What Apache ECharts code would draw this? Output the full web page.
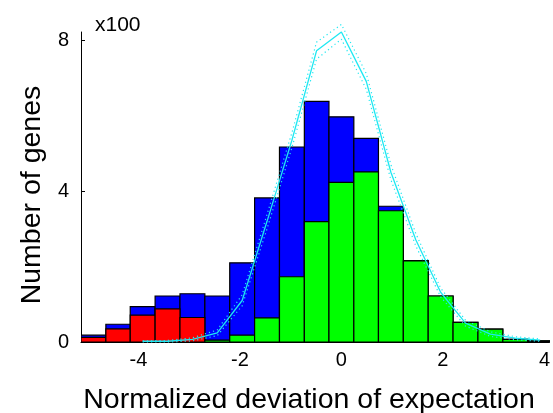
<!DOCTYPE html>
<html>
<head>
<meta charset="utf-8">
<script src="https://cdn.jsdelivr.net/npm/echarts@6/dist/echarts.min.js"></script>
<style>
html,body{margin:0;padding:0;background:#fff;}
#chart{width:553px;height:413px;}
</style>
</head>
<body>
<div id="chart"></div>
<script>
// Histogram bin edges (x, normalized deviation)
const binEdges = [-5.13, -4.64, -4.16, -3.67, -3.18, -2.69, -2.20, -1.71, -1.22, -0.73,
                  -0.245, 0.245, 0.73, 1.22, 1.71, 2.20, 2.69, 3.18, 3.67, 4.16];
// Counts in hundreds of genes
const totalCounts = [0.18, 0.47, 0.94, 1.22, 1.28, 1.22, 2.10, 3.82, 5.17, 6.38,
                     5.97, 5.40, 3.60, 2.16, 1.22, 0.52, 0.34, 0.07, 0.03];
const redCounts   = [0.12, 0.35, 0.71, 0.88, 0.65, 0, 0, 0, 0, 0,
                     0, 0, 0, 0, 0, 0, 0, 0, 0];
const greenCounts = [0, 0, 0, 0, 0, 0.05, 0.18, 0.64, 1.73, 3.19,
                     4.23, 4.51, 3.48, 2.15, 1.22, 0.52, 0.34, 0.07, 0.03];
// Expected distribution (cyan) with band
const fitX     = [-3.915, -3.425, -2.935, -2.445, -1.955, -1.465, -0.975, -0.49, 0.0, 0.49,
                  0.975, 1.465, 1.955, 2.445, 2.935, 3.425, 3.915];
const fitY     = [0.02, 0.02, 0.07, 0.24, 1.10, 3.20, 5.35, 7.72, 8.22, 6.91,
                  4.50, 2.71, 1.32, 0.50, 0.21, 0.10, 0.05];
const fitUpper = [0.03, 0.04, 0.11, 0.32, 1.25, 3.38, 5.55, 7.95, 8.42, 7.12,
                  4.70, 2.88, 1.43, 0.58, 0.27, 0.14, 0.08];
const fitLower = [0.00, 0.00, 0.03, 0.17, 0.96, 3.00, 5.15, 7.50, 8.03, 6.70,
                  4.30, 2.55, 1.20, 0.42, 0.15, 0.06, 0.02];
const xTicks = [-4, -2, 0, 2, 4];
const yTicks = [0, 4, 8];

const chart = echarts.init(document.getElementById('chart'), null, {renderer: 'canvas'});
const FONT = 'Liberation Sans, Arial, sans-serif';

function histSeries(name, counts, color, z) {
  const data = [];
  counts.forEach((v, i) => { if (v > 0) data.push([binEdges[i], binEdges[i + 1], v]); });
  return {
    name: name,
    type: 'custom',
    z: z,
    clip: true,
    encode: {x: [0, 1], y: 2},
    data: data,
    renderItem: function (params, api) {
      const p0 = api.coord([api.value(0), api.value(2)]);
      const p1 = api.coord([api.value(1), 0]);
      return {
        type: 'rect',
        shape: {x: p0[0], y: p0[1], width: p1[0] - p0[0], height: p1[1] - p0[1]},
        style: {fill: color, stroke: '#000', lineWidth: 1.2}
      };
    }
  };
}

function lineSeries(ys, type, width) {
  return {
    type: 'line',
    z: 10,
    clip: false,
    symbol: 'none',
    silent: true,
    data: fitX.map((x, i) => [x, ys[i]]),
    lineStyle: {color: '#1ee8f2', width: width, type: type}
  };
}

chart.setOption({
  animation: false,
  backgroundColor: '#fff',
  grid: {left: 81, top: 32, right: 0, bottom: 71},
  xAxis: {
    type: 'value', min: -5.13, max: 4.10,
    axisLine: {show: true, onZero: false, lineStyle: {color: '#000', width: 1}},
    axisTick: {show: false},
    splitLine: {show: false},
    axisLabel: {customValues: xTicks, color: '#000', fontSize: 20, fontFamily: FONT, margin: 8}
  },
  yAxis: {
    type: 'value', min: 0, max: 8.22,
    axisLine: {show: true, onZero: false, lineStyle: {color: '#000', width: 1}},
    axisTick: {show: true, inside: true, length: 4, customValues: yTicks, lineStyle: {color: '#000'}},
    splitLine: {show: false},
    axisLabel: {customValues: yTicks, color: '#000', fontSize: 20, fontFamily: FONT, margin: 12}
  },
  graphic: [
    {type: 'text', left: 95, top: 15, style: {text: 'x100', fontSize: 21, fontFamily: FONT, fill: '#000'}},
    {type: 'text', x: 309, y: 400, style: {text: 'Normalized deviation of expectation', fontSize: 28.5,
      fontFamily: FONT, fill: '#000', align: 'center', verticalAlign: 'middle'}},
    {type: 'text', x: 32, y: 195, rotation: Math.PI / 2, style: {text: 'Number of genes', fontSize: 28.5,
      fontFamily: FONT, fill: '#000', align: 'center', verticalAlign: 'middle'}}
  ],
  series: [
    histSeries('total', totalCounts, '#0000ff', 2),
    histSeries('red', redCounts, '#ff0000', 3),
    histSeries('green', greenCounts, '#00ff00', 3),
    lineSeries(fitY, 'solid', 1.3),
    lineSeries(fitUpper, [1.2, 3], 1.2),
    lineSeries(fitLower, [1.2, 3], 1.2)
  ]
});
</script>
</body>
</html>
